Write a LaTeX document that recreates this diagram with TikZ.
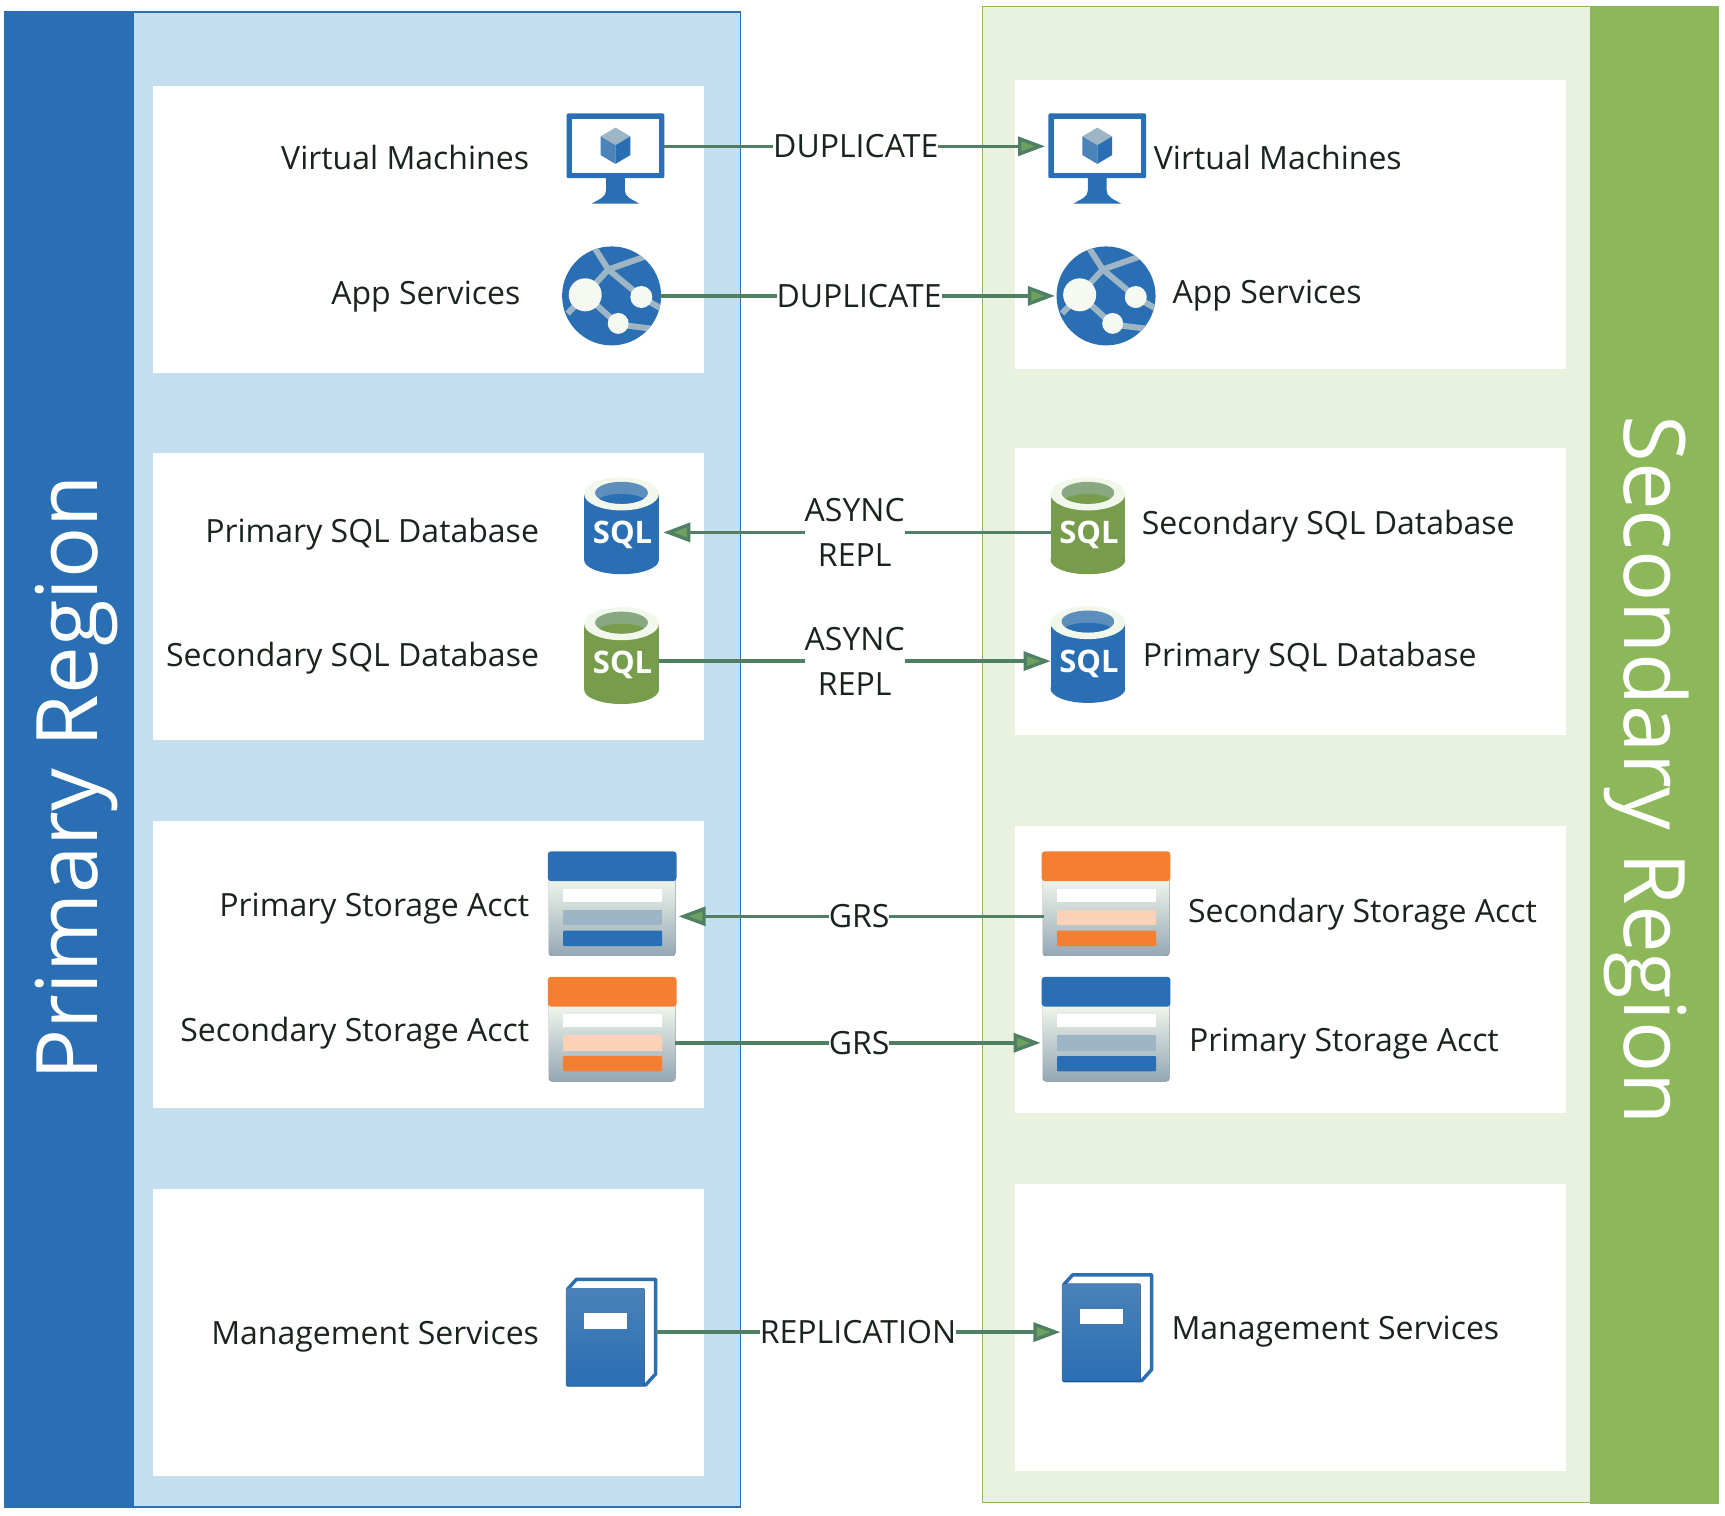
\documentclass[tikz,border=0pt]{standalone}
\usepackage{fontspec}
\setmainfont{Open Sans}
\usetikzlibrary{arrows.meta}
\definecolor{azblue}{HTML}{2A6EB4}
\definecolor{azgreen}{HTML}{8CB85A}
\definecolor{azorange}{HTML}{F47F33}
\definecolor{paleblue}{HTML}{C3DEEE}
\definecolor{palegreen}{HTML}{E9F1DF}
\definecolor{ink}{HTML}{1A241C}
\definecolor{flowc}{HTML}{4F8063}
\definecolor{headc}{HTML}{70A060}
\definecolor{steel}{HTML}{9DB5C4}
\tikzset{
  lab/.style={font=\fontsize{32}{36}\selectfont,text=ink,inner sep=0pt,outer sep=0pt,text height=24pt,text depth=0pt},
  flowlab/.style={font=\fontsize{32}{45}\selectfont,text=ink,inner sep=0pt,outer sep=0pt,align=center},
  port/.style={minimum width=#1*1.1pt,minimum height=20pt,inner sep=0pt,outer sep=0pt},
  flowline/.style={draw=flowc,line width=3.4pt},
  flow/.style={flowline,-{Triangle[length=27pt,width=19pt,fill=headc]}},
  band/.style={text=white,font=\fontsize{85}{90}\selectfont,inner sep=0pt},
}
% ---- icons, drawn at a top-left corner
\newcommand{\VmIcon}[2]{\begin{scope}[shift={(#1,#2)}]
  \fill[azblue,rounded corners=2pt] (0,0) rectangle (89,59);
  \fill[white] (5,5) rectangle (84,54);
  \fill[azblue] (36,59) -- (36,70) .. controls (36,76) and (30,78) .. (23,82) -- (66,82) .. controls (59,78) and (53,76) .. (53,70) -- (53,59) -- cycle;
  \fill[steel] (44.5,13) -- (58,21) -- (44.5,29) -- (31,21) -- cycle;
  \fill[azblue!70!steel] (31,21) -- (44.5,29) -- (44.5,46) -- (31,38) -- cycle;
  \fill[azblue] (58,21) -- (44.5,29) -- (44.5,46) -- (58,38) -- cycle;
\end{scope}}
\newcommand{\GlobeIcon}[2]{\begin{scope}[shift={(#1,#2)}]
  \fill[azblue] (0,0) circle (45);
  \begin{scope}
    \clip (0,0) circle (45);
    \draw[steel,line width=6pt] (-17,-46) -- (-3,-24) -- (27,1) -- (46,12);
    \draw[steel,line width=6pt] (-3,-24) -- (34,-37);
    \draw[steel,line width=6pt] (-3,-24) -- (-24,-1) -- (-40,16);
    \draw[steel,line width=6pt] (-24,-1) -- (6,26) -- (38,30);
  \end{scope}
  \fill[palegreen!40!white] (-24,-1) circle (15);
  \fill[palegreen!40!white] (27,1) circle (10);
  \fill[palegreen!40!white] (6,25) circle (9.5);
\end{scope}}
\newcommand{\SqlIcon}[3]{\begin{scope}[shift={(#1,#2)}]
  \fill[#3] (0,75) ellipse (34 and 13);
  \fill[#3] (-34,15) rectangle (34,75);
  \fill[palegreen!60!white] (0,15) ellipse (34 and 15);
  \begin{scope}
    \clip (0,14) ellipse (24 and 10);
    \fill[#3!55!steel] (-25,3) rectangle (25,25);
    \fill[#3] (0,24) ellipse (24 and 9);
  \end{scope}
  \node[font=\bfseries\fontsize{31}{34}\selectfont,text=white,inner sep=0pt] at (1,52.5) {SQL};
\end{scope}}
\newcommand{\StoreIcon}[4]{\begin{scope}[shift={(#1,#2)}]
  \fill[rounded corners=3pt,top color=palegreen!60!white,bottom color=steel!90!black!95] (1,24) rectangle (116,95);
  \fill[#3,rounded corners=3pt] (0,0) rectangle (117,27);
  \fill[white] (14,34) rectangle (104,46);
  \fill[#4] (14,53) rectangle (104,67);
  \fill[#3,rounded corners=1pt] (14,72) rectangle (104,86);
\end{scope}}
\newcommand{\BookIcon}[2]{\begin{scope}[shift={(#1,#2)}]
  \draw[azblue,line width=3.5pt,fill=white,line join=round] (1,10) -- (9,1) -- (81,1) -- (81,87) -- (72,97) -- (1,97) -- cycle;
  \fill[top color=azblue!72!steel,bottom color=azblue,rounded corners=1pt] (0,9) rectangle (71,98);
  \fill[white] (16,32) rectangle (55,46);
\end{scope}}
\begin{document}
\begin{tikzpicture}[x=1.1pt,y=-1.1pt]
\useasboundingbox (0,0) rectangle (1568.18,1377.27);
\fill[white] (0,0) rectangle (1568.18,1377.27);
% left region
\fill[azblue] (4,10) rectangle (122,1371);
\fill[paleblue] (122,11) rectangle (673,1370);
\draw[azblue,line width=1.5pt] (122,11) -- (673,11) -- (673,1370) -- (122,1370);
\foreach \t/\b in {78/339,412/673,746/1007,1081/1342}
  \fill[white] (139,\t) rectangle (640,\b);
% right region
\fill[azgreen] (1445,5) rectangle (1563,1367);
\fill[palegreen] (893,6) rectangle (1445,1366);
\draw[azgreen,line width=1.5pt] (1445,6) -- (893,6) -- (893,1366) -- (1445,1366);
\foreach \t/\b in {73/335,407/668,751/1012,1076/1337}
  \fill[white] (923,\t) rectangle (1424,\b);
\node[band,rotate=90] (primaryRegion) at (70,707) {Primary Region};
\node[band,rotate=-90] (secondaryRegion) at (1497,700) {Secondary Region};
% icons
\VmIcon{515}{103}
\VmIcon{953}{103}
\GlobeIcon{556}{269}
\GlobeIcon{1005.5}{269}
\SqlIcon{565}{434}{azblue}
\SqlIcon{565}{552}{azgreen!85!black}
\SqlIcon{989}{434}{azgreen!85!black}
\SqlIcon{989}{551}{azblue}
\StoreIcon{498}{774}{azblue}{steel}
\StoreIcon{498}{888}{azorange}{azorange!35!white}
\StoreIcon{947}{774}{azorange}{azorange!35!white}
\StoreIcon{947}{888}{azblue}{steel}
\BookIcon{515}{1162}
\BookIcon{966}{1158}
% connector ends
\node[port=89] (vmL) at (559.5,133) {};
\node[port=96] (vmR) at (998,133) {};
\node[port=90] (appL) at (555,269) {};
\node[port=96] (appR) at (1007,269) {};
\node[port=76] (sqlLa) at (565,484) {};
\node[port=68] (sqlRa) at (989,484) {};
\node[port=68] (sqlLb) at (565,601) {};
\node[port=72] (sqlRb) at (991,601) {};
\node[port=120] (stLa) at (557,833) {};
\node[port=113] (stRa) at (1005.5,833) {};
\node[port=114] (stLb) at (557,948) {};
\node[port=121] (stRb) at (1006.5,948) {};
\node[port=80] (bkL) at (556,1211) {};
\node[port=88] (bkR) at (1008,1211) {};
% connector labels
\node[flowlab] (dupA) at (778,133) {DUPLICATE};
\node[flowlab] (dupB) at (781,269) {DUPLICATE};
\node[flowlab] (asyncA) at (777,484) {ASYNC\\REPL};
\node[flowlab] (asyncB) at (777,601) {ASYNC\\REPL};
\node[flowlab] (grsA) at (781,833) {GRS};
\node[flowlab] (grsB) at (781,948) {GRS};
\node[flowlab] (replC) at (780,1211) {REPLICATION};
% connectors
\draw[flowline] (vmL.east) -- (dupA.west);
\draw[flow] (dupA.east) -- (vmR.west);
\draw[flowline] (appL.east) -- (dupB.west);
\draw[flow] (dupB.east) -- (appR.west);
\draw[flowline] (sqlRa.west) -- (asyncA.east);
\draw[flow] (asyncA.west) -- (sqlLa.east);
\draw[flowline] (sqlLb.east) -- (asyncB.west);
\draw[flow] (asyncB.east) -- (sqlRb.west);
\draw[flowline] (stRa.west) -- (grsA.east);
\draw[flow] (grsA.west) -- (stLa.east);
\draw[flowline] (stLb.east) -- (grsB.west);
\draw[flow] (grsB.east) -- (stRb.west);
\draw[flowline] (bkL.east) -- (replC.west);
\draw[flow] (replC.east) -- (bkR.west);
% labels
\node[lab,anchor=east] (l1) at (481,143) {Virtual Machines};
\node[lab,anchor=east] (l2) at (473,266) {App Services};
\node[lab,anchor=east] (l3) at (490,482) {Primary SQL Database};
\node[lab,anchor=east] (l4) at (490,595) {Secondary SQL Database};
\node[lab,anchor=east] (l5) at (481,822) {Primary Storage Acct};
\node[lab,anchor=east] (l6) at (481,936) {Secondary Storage Acct};
\node[lab,anchor=east] (l7) at (490,1211) {Management Services};
\node[lab,anchor=west] (r1) at (1049,143) {Virtual Machines};
\node[lab,anchor=west] (r2) at (1066,265) {App Services};
\node[lab,anchor=west] (r3) at (1038,475) {Secondary SQL Database};
\node[lab,anchor=west] (r4) at (1039,595) {Primary SQL Database};
\node[lab,anchor=west] (r5) at (1080,828) {Secondary Storage Acct};
\node[lab,anchor=west] (r6) at (1081,945) {Primary Storage Acct};
\node[lab,anchor=west] (r7) at (1065,1207) {Management Services};
\end{tikzpicture}
\end{document}
